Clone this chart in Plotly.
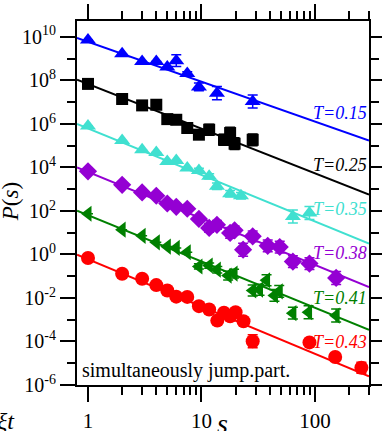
import numpy as np
import plotly.graph_objects as go

# ---------------- data ----------------
s_blue = [1, 2, 3, 4, 5, 6, 7.5, 9.5, 13.7, 28.3]
p_blue = [7.2e9, 1.66e9, 7.4e8, 7.4e8, 4.1e8, 8.1e8, 2.1e8, 5.0e7, 2.6e7, 1.07e7]
e_blue = [0, 0, 0, 0, 0, 0.27, 0.08, 0.18, 0.3, 0.3]

s_black = [1, 2, 3, 4, 5, 6, 7.5, 9.5, 11.7, 15.8, 17.9, 19.6, 28.3]
p_black = [6.9e7, 1.4e7, 7.1e6, 7.6e6, 1.66e6, 1.55e6, 6.5e5, 3.2e5, 5.4e5, 1.86e5, 3.8e5, 1.23e5, 1.86e5]
e_black = [0, 0, 0, 0, 0, 0, 0, 0.15, 0.25, 0.25, 0.27, 0.27, 0.27]

s_turq = [1, 2, 3, 4, 5, 6, 7.5, 9.5, 11.7, 13.7, 17.9, 22.3, 64, 89.6]
p_turq = [8.1e5, 1.74e5, 6.5e4, 4.9e4, 1.86e4, 2.1e4, 9.3e3, 7.2e3, 3.9e3, 1.35e3, 6.2e2, 5.0e2, 56, 81]
e_turq = [0, 0, 0, 0, 0, 0, 0, 0.1, 0.12, 0.15, 0.15, 0.15, 0.3, 0.3]

s_purp = [1, 2, 3, 4, 5, 6, 7.5, 9.5, 11.7, 13.7, 17.9, 19.6, 23.3, 28.3, 38.4, 49, 64, 89.6, 154]
p_purp = [6.6e3, 1.58e3, 7.1e2, 5.0e2, 2.2e2, 1.55e2, 1.26e2, 43, 16.6, 23, 9.8, 12.9, 1.66, 6.8, 2.5, 2.2, 0.47, 0.38, 0.083]
e_purp = [0, 0, 0, 0, 0, 0, 0, 0.1, 0.2, 0.2, 0.25, 0.2, 0.3, 0.25, 0.27, 0.27, 0.27, 0.27, 0.3]

s_green = [1, 2, 3, 4, 5, 6, 7.5, 9.5, 11.7, 13.8, 17.2, 19.4, 28.3, 32.5, 37.5, 44, 48.5, 64, 88, 154]
p_green = [74, 13.8, 7.2, 3.6, 2.3, 2.0, 1.26, 0.28, 0.31, 0.20, 0.107, 0.132, 0.022, 0.024, 0.065, 0.013, 0.020, 2.0e-3, 2.2e-3, 1.55e-3]
e_green = [0, 0, 0, 0, 0, 0, 0, 0.12, 0.12, 0.15, 0.2, 0.2, 0.25, 0.25, 0.25, 0.27, 0.27, 0.27, 0.3, 0.3]

s_red = [1, 2, 3, 4, 5, 6, 7.5, 9.5, 11.7, 13.8, 15.8, 17.9, 20, 23.5, 28.3, 89.6, 151, 257]
p_red = [0.69, 0.13, 0.076, 0.039, 0.022, 0.0115, 0.0112, 4.2e-3, 2.95e-3, 9.1e-4, 2.1e-3, 1.45e-3, 2.2e-3, 8.5e-4, 1.02e-4, 9.1e-5, 1.95e-5, 6.2e-6]
e_red = [0, 0, 0, 0, 0, 0, 0, 0, 0, 0, 0, 0, 0, 0, 0.3, 0.12, 0.1, 0.25]

# power-law fit lines (end points at s=0.8 and s=300)
fit_s = [0.8, 300]
fit_blue = [8.9e9, 1.74e5]
fit_black = [1.07e8, 5.6e2]
fit_turq = [1.0e6, 3.2]
fit_purp = [1.0e4, 0.032]
fit_green = [1.02e2, 3.4e-4]
fit_red = [0.98, 2.5e-6]

labels = ["T=0.15", "T=0.25", "T=0.35", "T=0.38", "T=0.41", "T=0.43"]

x_tickvals = [1, 10, 100]
x_ticktext = ["1", "10", "100"]
x_minor = [2, 3, 4, 5, 6, 7, 8, 9, 20, 30, 40, 50, 60, 70, 80, 90, 200, 300]
y_exps = [-6, -4, -2, 0, 2, 4, 6, 8, 10]
y_minor_exps = [-5, -3, -1, 1, 3, 5, 7, 9]

# ---------------- figure ----------------
FONT = "Liberation Serif"
series = [
    (s_blue, p_blue, e_blue, fit_blue, "#0000ff", "triangle-up", 14),
    (s_black, p_black, e_black, fit_black, "#000000", "square", 12),
    (s_turq, p_turq, e_turq, fit_turq, "#40e0d0", "triangle-up", 14),
    (s_purp, p_purp, e_purp, fit_purp, "#9400d3", "diamond", 14),
    (s_green, p_green, e_green, fit_green, "#008000", "triangle-left", 14),
    (s_red, p_red, e_red, fit_red, "#ff0000", "circle", 14),
]

fig = go.Figure()
for s, p, e, fit, col, sym, sz in series:
    fig.add_trace(go.Scatter(x=fit_s, y=fit, mode="lines",
                             line=dict(color=col, width=2), showlegend=False,
                             hoverinfo="skip"))
for s, p, e, fit, col, sym, sz in series:
    p_arr = np.array(p)
    e_arr = np.array(e)
    up = p_arr * (10 ** e_arr - 1)
    dn = p_arr * (1 - 10 ** (-e_arr))
    fig.add_trace(go.Scatter(
        x=s, y=p, mode="markers",
        marker=dict(symbol=sym, size=sz, color=col, line=dict(width=0)),
        error_y=dict(type="data", symmetric=False, array=up, arrayminus=dn,
                     color=col, thickness=1.5, width=5),
        showlegend=False))

ann = []
ypos = [0.747, 0.604, 0.4835, 0.3626, 0.239, 0.118]
cols = [s[4] for s in series]
for lab, yp, col in zip(labels, ypos, cols):
    ann.append(dict(text="<i>" + lab + "</i>", xref="paper", yref="paper",
                    x=1.0, y=yp, xanchor="right", yanchor="middle", xshift=0,
                    showarrow=False, font=dict(family=FONT, size=18, color=col)))
ann.append(dict(text="simultaneously jump.part.", xref="paper", yref="paper",
                x=0.01, y=0.041, xanchor="left", yanchor="middle",
                showarrow=False, font=dict(family=FONT, size=20, color="black")))
ann.append(dict(text="<i>P</i>(<i>s</i>)", xref="paper", yref="paper",
                x=-0.225, y=0.503, xanchor="center", yanchor="middle", textangle=-90,
                showarrow=False, font=dict(family=FONT, size=23, color="black")))
ann.append(dict(text="<i>s</i>", xref="paper", yref="paper",
                x=0.4966, y=-0.105, xanchor="center", yanchor="middle",
                showarrow=False, font=dict(family=FONT, size=28, color="black")))
ann.append(dict(text="<i>ξt</i>", xref="paper", yref="paper",
                x=-0.205, y=-0.1, xanchor="right", yanchor="middle",
                showarrow=False, font=dict(family=FONT, size=24, color="black")))

fig.update_layout(
    width=382, height=431,
    margin=dict(l=77, r=13, t=21, b=46),
    paper_bgcolor="white", plot_bgcolor="white",
    font=dict(family=FONT, size=20, color="black"),
    annotations=ann,
    showlegend=False,
)
fig.update_xaxes(
    type="log", range=[np.log10(0.8), np.log10(300)], automargin=False,
    tickvals=x_tickvals, ticktext=x_ticktext,
    ticks="outside", ticklen=15, tickwidth=2, tickcolor="black",
    minor=dict(tickvals=x_minor, ticks="outside", ticklen=8, tickwidth=2, tickcolor="black"),
    showline=True, linewidth=2, linecolor="black", mirror="allticks",
    showgrid=False, zeroline=False,
    tickfont=dict(family=FONT, size=21), ticklabelstandoff=1,
)
fig.update_yaxes(
    type="log", range=[-6, 10.73], automargin=False,
    tickvals=[10.0 ** k for k in y_exps],
    ticktext=["10<sup>%d</sup>" % k for k in y_exps],
    ticks="outside", ticklen=15, tickwidth=2, tickcolor="black",
    minor=dict(tickvals=[10.0 ** k for k in y_minor_exps], ticks="outside",
               ticklen=8, tickwidth=2, tickcolor="black"),
    showline=True, linewidth=2, linecolor="black", mirror="allticks",
    showgrid=False, zeroline=False,
    tickfont=dict(family=FONT, size=20),
)

fig.write_html("out.html", config={"displayModeBar": False},
               post_script="document.body.style.margin='0px';")
